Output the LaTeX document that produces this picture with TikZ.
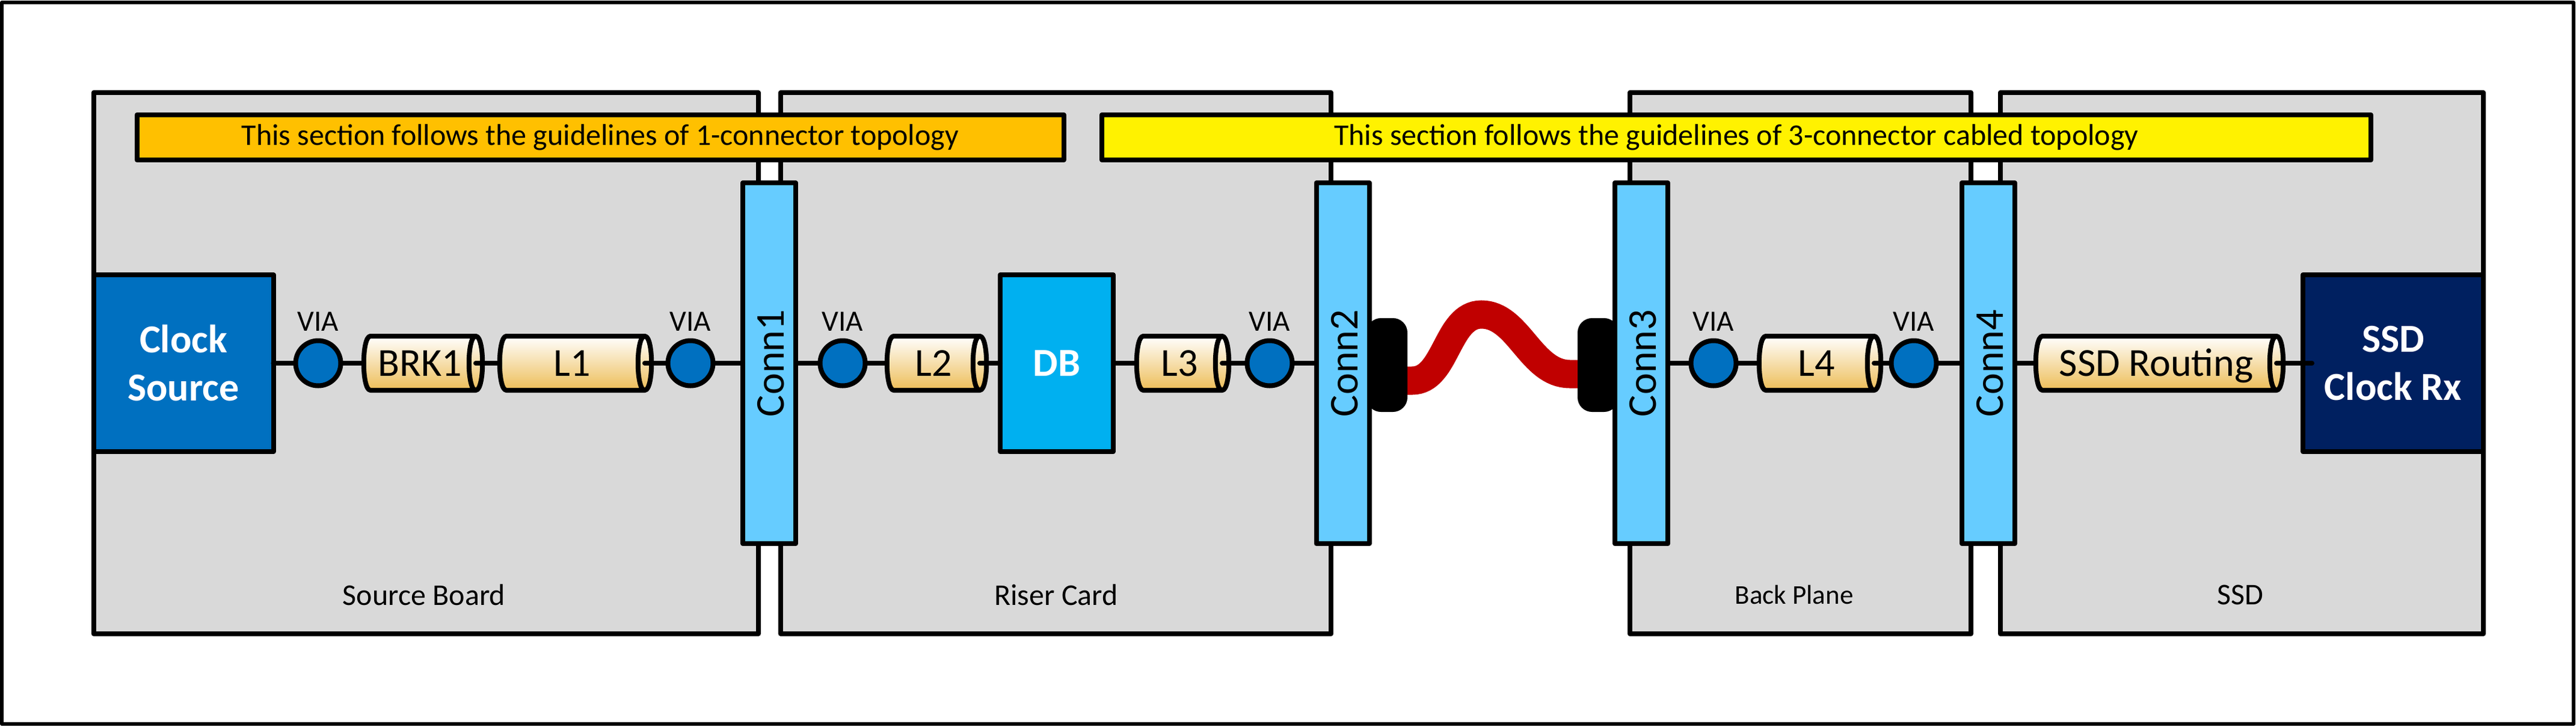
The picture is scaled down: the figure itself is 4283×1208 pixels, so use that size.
\documentclass[tikz,border=0pt]{standalone}
\usepackage{fontspec}
\setmainfont{Carlito}
\definecolor{boardgrey}{HTML}{D9D9D9}
\definecolor{connblue}{HTML}{66CCFF}
\definecolor{viablue}{HTML}{0070C0}
\definecolor{dbblue}{HTML}{00B0F0}
\definecolor{ssdnavy}{HTML}{002060}
\definecolor{barorange}{HTML}{FFC000}
\definecolor{cablered}{HTML}{C00000}
\definecolor{cylgold}{HTML}{EDBD57}
\tikzset{
  x=1pt,y=-1pt,
  ln/.style={draw=black,line width=8pt,line join=round},
  rectnode/.style={ln,rectangle,inner sep=0pt,outer sep=0pt,align=center},
  boardbox/.style={rectnode,fill=boardgrey},
  boardlabel/.style={font=\fontsize{50}{60}\selectfont,inner sep=0pt},
  smalllabel/.style={font=\fontsize{45}{54}\selectfont,inner sep=0pt},
  barbox/.style={rectnode,minimum height=75pt,font=\fontsize{50}{60}\selectfont},
  connbox/.style={rectnode,fill=connblue,minimum width=88pt,minimum height=600pt},
  connlabel/.style={font=\fontsize{68}{80}\selectfont,rotate=90,inner sep=0pt},
  chipbox/.style={rectnode,minimum height=294pt,text=white,font=\bfseries\fontsize{66}{80}\selectfont},
  vianode/.style={ln,circle,fill=viablue,minimum size=75pt,inner sep=0pt,outer sep=0pt},
  vialabel/.style={font=\fontsize{49}{59}\selectfont,inner sep=0pt},
  cyllabel/.style={rectangle,inner sep=0pt,outer sep=0pt,minimum height=90pt,text height=42pt,text depth=0pt,font=\fontsize{66}{80}\selectfont},
  cylbody/.style={ln,top color=white,bottom color=cylgold},
  wire/.style={draw=black,line width=8pt,line cap=round},
  cable/.style={draw=cablered,line width=47pt},
  plug/.style={fill=black,rectangle,rounded corners=24pt,inner sep=0pt,outer sep=0pt,minimum width=68pt,minimum height=156pt},
}
% name, left x, right x, text
\newcommand{\cylnode}[4]{%
  \pgfmathsetmacro{\cxa}{#2+11}\pgfmathsetmacro{\cxb}{#3-11}%
  \pgfmathsetmacro{\cxk}{#2-4}\pgfmathsetmacro{\cxl}{#3+4}\pgfmathsetmacro{\cxm}{(#2+#3-11)/2}%
  \pgfmathsetmacro{\cwid}{#3-11-#2}%
  \path[cylbody] (\cxa,559) -- (\cxb,559) .. controls (\cxl,559) and (\cxl,649) .. (\cxb,649) -- (\cxa,649) .. controls (\cxk,649) and (\cxk,559) .. (\cxa,559) -- cycle;
  \draw[ln] (\cxb,559) .. controls (\cxb-15,559) and (\cxb-15,649) .. (\cxb,649);
  \node[cyllabel,minimum width=\cwid pt] (#1) at (\cxm,604) {#4};
}
\begin{document}
\begin{tikzpicture}
\useasboundingbox (0,0) rectangle (4283,1208);
\draw[line width=6pt,line join=round,fill=white] (3,4) rectangle (4279,1204);
% boards
\node[boardbox,minimum width=1105pt,minimum height=900pt] (board1) at (708,604) {};
\node[boardbox,minimum width=915pt,minimum height=900pt] (board2) at (1755.5,604) {};
\node[boardbox,minimum width=567pt,minimum height=900pt] (board3) at (2993.5,604) {};
\node[boardbox,minimum width=803pt,minimum height=900pt] (board4) at (3727.5,604) {};
\node[boardlabel] (lab1) at (705,989) {Source Board};
\node[boardlabel] (lab2) at (1756,989) {Riser Card};
\node[smalllabel] (lab3) at (2983,989) {Back Plane};
\node[boardlabel] (lab4) at (3725,989) {SSD};
% bars
\node[barbox,fill=barorange,minimum width=1541pt] (bar1) at (998,228.5) {This section follows the guidelines of 1-connector topology};
\node[barbox,fill=yellow,minimum width=2110pt] (bar2) at (2887,228.5) {This section follows the guidelines of 3-connector cabled topology};
% cylinders
\cylnode{brk}{605}{802}{BRK1}
\cylnode{lone}{831}{1083}{L1}
\cylnode{ltwo}{1475}{1640}{L2}
\cylnode{lthree}{1890}{2043}{L3}
\cylnode{lfour}{2925}{3127}{L4}
\cylnode{ssdr}{3385}{3796}{SSD Routing}
% chips
\node[chipbox,fill=viablue,minimum width=299pt] (clock) at (305,604) {Clock\\Source};
\node[chipbox,fill=dbblue,minimum width=188pt] (db) at (1757,604) {DB};
\node[chipbox,fill=ssdnavy,minimum width=300pt] (rx) at (3979,604) {SSD\\Clock Rx};
\coordinate (rxin) at (3844,604);
% cable
\coordinate (cabs) at (2330,633);
\coordinate (cabe) at (2640,622);
\draw[cable] (cabs) -- (2348,633) .. controls (2405,633) and (2405,523) .. (2463,523) .. controls (2525,523) and (2545,622) .. (2610,622) -- (cabe);
\node[plug] (plugl) at (2306,607) {};
\node[plug] (plugr) at (2657,607) {};
% connectors
\node[connbox] (conn1) at (1279,604) {};
\node[connbox] (conn2) at (2232.5,604) {};
\node[connbox] (conn3) at (2729,604) {};
\node[connbox] (conn4) at (3306,604) {};
% vias
\coordinate (viaa) at (529,604);\coordinate (viab) at (1148,604);\coordinate (viac) at (1401,604);
\coordinate (viad) at (2111,604);\coordinate (viae) at (2849,604);\coordinate (viaf) at (3182,604);
% wires
\draw[wire] (clock.east) -- (viaa);
\draw[wire] (viaa) -- (brk.west);
\draw[wire] (brk.east) -- (lone.west);
\draw[wire] (lone.east) -- (viab);
\draw[wire] (viab) -- (conn1.west |- viab);
\draw[wire] (conn1.east |- viac) -- (viac);
\draw[wire] (viac) -- (ltwo.west);
\draw[wire] (ltwo.east) -- (db.west);
\draw[wire] (db.east) -- (lthree.west);
\draw[wire] (lthree.east) -- (viad);
\draw[wire] (viad) -- (conn2.west |- viad);
\draw[wire] (conn3.east |- viae) -- (viae);
\draw[wire] (viae) -- (lfour.west);
\draw[wire] (lfour.east) -- (viaf);
\draw[wire] (viaf) -- (conn4.west |- viaf);
\draw[wire] (conn4.east |- ssdr) -- (ssdr.west);
\draw[wire] (ssdr.east) -- (rxin);
\node[vianode] (via1) at (viaa) {};
\node[vianode] (via2) at (viab) {};
\node[vianode] (via3) at (viac) {};
\node[vianode] (via4) at (viad) {};
\node[vianode] (via5) at (viae) {};
\node[vianode] (via6) at (viaf) {};
\node[vialabel] (vl1) at (529,535) {VIA};
\node[vialabel] (vl2) at (1148,535) {VIA};
\node[vialabel] (vl3) at (1401,535) {VIA};
\node[vialabel] (vl4) at (2111,535) {VIA};
\node[vialabel] (vl5) at (2849,535) {VIA};
\node[vialabel] (vl6) at (3182,535) {VIA};
% connector labels
\node[connlabel] (cl1) at (1282,604) {Conn1};
\node[connlabel] (cl2) at (2236,604) {Conn2};
\node[connlabel] (cl3) at (2732,604) {Conn3};
\node[connlabel] (cl4) at (3309,604) {Conn4};
\end{tikzpicture}
\end{document}
